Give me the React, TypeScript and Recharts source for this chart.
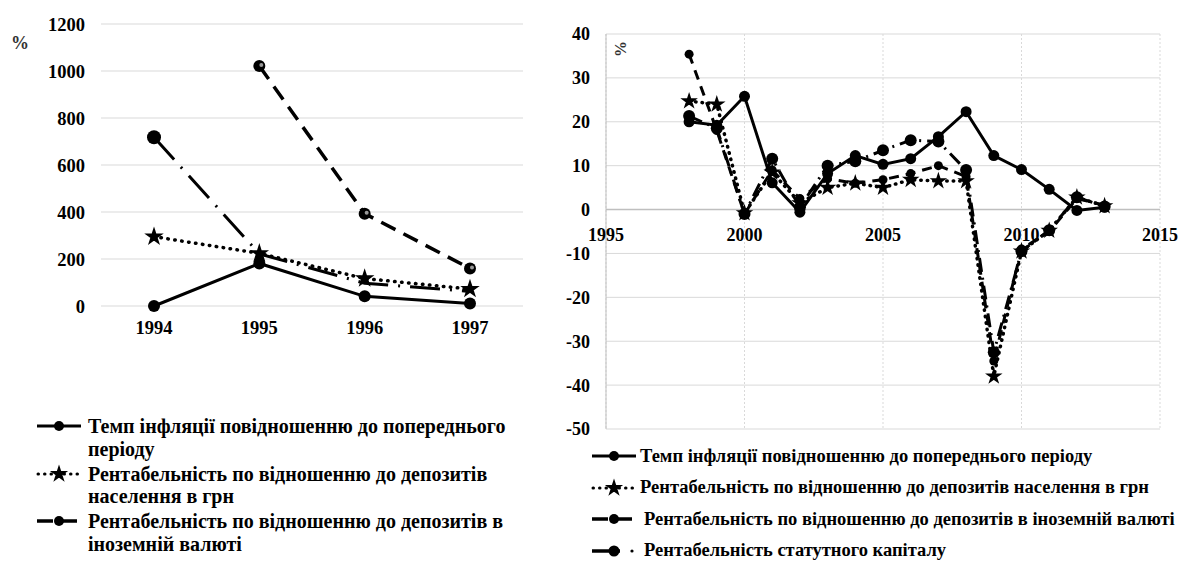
import React from "react";
import { LineChart, Line, XAxis, YAxis, CartesianGrid, ReferenceLine, Symbols } from "recharts";

const SERIF = "'Liberation Serif', 'Times New Roman', Tinos, 'DejaVu Serif', serif";

// left panel, 1994-1997
const leftYears = ["1994", "1995", "1996", "1997"];
const leftInflation = [0, 181, 41, 11];
const leftUah = [295, 224, 117, 72];
const leftForeign = [null, 1021, 393, 160];
const leftCapital = [718, 222, 97, 62];
const leftTicks = [0, 200, 400, 600, 800, 1000, 1200];

// right panel, 1998-2013
const rightYears = [1998, 1999, 2000, 2001, 2002, 2003, 2004, 2005, 2006, 2007, 2008, 2009, 2010, 2011, 2012, 2013];
const rightInflation = [20, 19.2, 25.8, 6.1, -0.6, 8.2, 12.3, 10.3, 11.6, 16.6, 22.3, 12.3, 9.1, 4.6, -0.2, 0.5];
const rightUah = [24.7, 24, -0.8, 8.5, 1.5, 5, 6, 5, 6.8, 6.5, 6.5, -38, -9.5, -4.8, 2.8, 0.8];
const rightForeign = [35.4, 18, -1, 9, 2.5, 7, 6, 6.8, 8.2, 10, 7.5, -34.5, -9, -5, 2.5, 1];
const rightCapital = [21.3, 18.5, -1, 11.6, 0.5, 10, 11, 13.5, 15.8, 15.5, 9, -32.5, -9.5, -4.7, 2.8, 0.7];
const rightYTicks = [-50, -40, -30, -20, -10, 0, 10, 20, 30, 40];
const rightXTicks = [1995, 2000, 2005, 2010, 2015];

const leftLegend = [
  ["Темп інфляції повідношенню до попереднього", "періоду"],
  ["Рентабельність по відношенню до депозитів", "населення в грн"],
  ["Рентабельність по відношенню до депозитів в", "іноземній валюті"],
];
const rightLegend = [
  "Темп інфляції повідношенню до попереднього періоду",
  "Рентабельність по відношенню до депозитів населення в грн",
  "Рентабельність по відношенню до депозитів в іноземній валюті",
  "Рентабельність статутного капіталу",
];

const leftData = leftYears.map((year, i) => ({
  year,
  inflation: leftInflation[i],
  uah: leftUah[i],
  foreign: leftForeign[i],
  capital: leftCapital[i],
}));

const rightData = rightYears.map((year, i) => ({
  year,
  inflation: rightInflation[i],
  uah: rightUah[i],
  foreign: rightForeign[i],
  capital: rightCapital[i],
}));

// right panel: x labels sit next to the zero line, not at the bottom
const RIGHT_PLOT_H = 395;
const ZERO_SHIFT = (RIGHT_PLOT_H * 50) / 90;

const circleDot = (r: number) => (props: any) => {
  const { cx, cy, index, value } = props;
  if (cx == null || cy == null || value == null) return <g key={index} />;
  return <circle key={index} cx={cx} cy={cy} r={r} fill="#000" />;
};

const starDot = (size: number) => (props: any) => {
  const { cx, cy, index, value } = props;
  if (cx == null || cy == null || value == null) return <g key={index} />;
  return <Symbols key={index} cx={cx} cy={cy} type="star" size={size} fill="#000" stroke="#000" strokeWidth={2} />;
};

const foreignDot = (props: any) => {
  const { cx, cy, index, value } = props;
  if (cx == null || cy == null || value == null) return <g key={index} />;
  return (
    <g key={index}>
      <circle cx={cx} cy={cy} r={6} fill="#000" />
      <circle cx={cx + 2} cy={cy - 1} r={2} fill="#999" />
    </g>
  );
};

const RightXTick = (props: any) => {
  const { x, y, payload } = props;
  return (
    <text x={x} y={y - ZERO_SHIFT + 23} textAnchor="middle" fontFamily={SERIF} fontWeight="bold" fontSize={18} fill="#000">
      {payload.value}
    </text>
  );
};

const tickStyle = { fontFamily: SERIF, fontWeight: "bold" as const, fontSize: 18, fill: "#000" };

const LegendIcon = ({ kind }: { kind: string }) => {
  const y = 11;
  if (kind === "solid")
    return (
      <svg width={48} height={22}>
        <line x1={2} y1={y} x2={46} y2={y} stroke="#000" strokeWidth={3} />
        <circle cx={24} cy={y} r={5} fill="#000" />
      </svg>
    );
  if (kind === "dotted")
    return (
      <svg width={48} height={22}>
        <line x1={3} y1={y} x2={46} y2={y} stroke="#000" strokeWidth={3} strokeDasharray="0.5 6" strokeLinecap="round" />
        <Symbols cx={24} cy={y} type="star" size={45} fill="#000" stroke="#000" strokeWidth={2} />
      </svg>
    );
  if (kind === "dashed")
    return (
      <svg width={48} height={22}>
        <line x1={2} y1={y} x2={46} y2={y} stroke="#000" strokeWidth={3.5} strokeDasharray="16 8" />
        <circle cx={24} cy={y} r={5} fill="#000" />
      </svg>
    );
  return (
    <svg width={48} height={22}>
      <line x1={2} y1={y} x2={30} y2={y} stroke="#000" strokeWidth={3.5} />
      <circle cx={24} cy={y} r={5.5} fill="#000" />
      <circle cx={42} cy={y} r={1.6} fill="#000" />
    </svg>
  );
};

const leftKinds = ["solid", "dotted", "dashed"];
const rightKinds = ["solid", "dotted", "dashed", "dashdot"];

export default function App() {
  return (
    <div style={{ position: "absolute", left: 0, top: 0, width: 1180, height: 561, background: "#fff", fontFamily: SERIF }}>
      {/* left panel */}
      <div style={{ position: "absolute", left: 0, top: 0 }}>
        <LineChart width={560} height={345} data={leftData} margin={{ top: 24, right: 37, bottom: 9, left: 0 }}>
          <CartesianGrid vertical={false} stroke="#d9d9d9" />
          <XAxis
            dataKey="year"
            axisLine={false}
            tickLine={false}
            tick={{ ...tickStyle, fontSize: 18.5 }}
            tickMargin={9}
            height={30}
            padding={{ left: 53, right: 53 }}
          />
          <YAxis
            domain={[0, 1200]}
            ticks={leftTicks}
            width={101}
            axisLine={false}
            tickLine={false}
            tick={{ ...tickStyle, fontSize: 18.5 }}
            tickMargin={10}
          />
          <Line dataKey="inflation" stroke="#000" strokeWidth={3} dot={circleDot(6)} isAnimationActive={false} />
          <Line
            dataKey="uah"
            stroke="#000"
            strokeWidth={3.5}
            strokeDasharray="0.5 6.5"
            strokeLinecap="round"
            dot={starDot(55)}
            isAnimationActive={false}
          />
          <Line dataKey="foreign" stroke="#000" strokeWidth={3.5} strokeDasharray="16 9" dot={foreignDot} isAnimationActive={false} />
          <Line
            dataKey="capital"
            stroke="#000"
            strokeWidth={3}
            strokeDasharray="30 10 2 10"
            dot={(p: any) => (p.index === 0 ? circleDot(7)(p) : <g key={p.index} />)}
            isAnimationActive={false}
          />
        </LineChart>
        <div style={{ position: "absolute", left: 11, top: 33, fontSize: 18, fontWeight: "bold", color: "#333" }}>%</div>
      </div>

      {/* right panel */}
      <div style={{ position: "absolute", left: 560, top: 0 }}>
        <LineChart width={620} height={440} data={rightData} margin={{ top: 34, right: 20, bottom: 10, left: 0 }}>
          <CartesianGrid vertical={false} stroke="#d9d9d9" />
          <CartesianGrid horizontal={false} stroke="#d9d9d9" strokeDasharray="2 2" />
          <XAxis
            dataKey="year"
            type="number"
            domain={[1995, 2015]}
            ticks={rightXTicks}
            axisLine={false}
            tickLine={false}
            height={1}
            tick={<RightXTick />}
          />
          <YAxis
            domain={[-50, 40]}
            ticks={rightYTicks}
            width={46}
            axisLine={{ stroke: "#bfbfbf" }}
            tickLine={false}
            tick={tickStyle}
            tickMargin={10}
          />
          <ReferenceLine y={0} stroke="#bfbfbf" strokeWidth={1.5} />
          <Line dataKey="inflation" stroke="#000" strokeWidth={3} dot={circleDot(5.5)} isAnimationActive={false} />
          <Line
            dataKey="uah"
            stroke="#000"
            strokeWidth={3.5}
            strokeDasharray="0.5 6"
            strokeLinecap="round"
            dot={starDot(40)}
            isAnimationActive={false}
          />
          <Line dataKey="foreign" stroke="#000" strokeWidth={3} strokeDasharray="10 7" dot={circleDot(4.5)} isAnimationActive={false} />
          <Line dataKey="capital" stroke="#000" strokeWidth={3} strokeDasharray="14 6 2 6" dot={circleDot(6)} isAnimationActive={false} />
        </LineChart>
        <div
          style={{
            position: "absolute",
            left: 53,
            top: 40,
            fontSize: 16,
            fontWeight: "bold",
            color: "#333",
            transform: "rotate(-90deg)",
          }}
        >
          %
        </div>
      </div>

      {/* left legend */}
      {leftLegend.map((lines, i) => (
        <div key={i} style={{ position: "absolute", left: 35, top: 415 + i * 47.5, display: "flex", alignItems: "flex-start" }}>
          <LegendIcon kind={leftKinds[i]} />
          <div style={{ marginLeft: 5, fontSize: 20, fontWeight: "bold", lineHeight: "22.5px", whiteSpace: "nowrap" }}>
            {lines.map((t, j) => (
              <div key={j}>{t}</div>
            ))}
          </div>
        </div>
      ))}

      {/* right legend */}
      {rightLegend.map((t, i) => (
        <div key={i} style={{ position: "absolute", left: 590, top: 445 + i * 31.5, display: "flex", alignItems: "center", height: 22 }}>
          <LegendIcon kind={rightKinds[i]} />
          <div style={{ marginLeft: i >= 2 ? 6 : 2, fontSize: 18.5, fontWeight: "bold", whiteSpace: "nowrap" }}>{t}</div>
        </div>
      ))}
    </div>
  );
}
